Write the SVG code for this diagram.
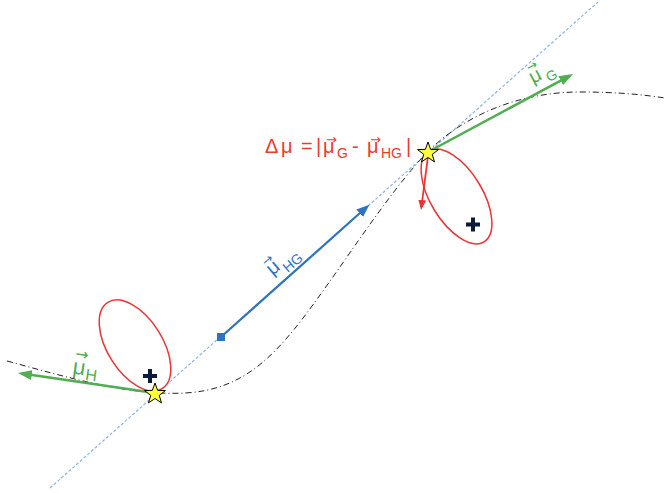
<svg xmlns="http://www.w3.org/2000/svg" width="665" height="493" viewBox="0 0 665 493">
<style>
.red{fill:#ee3a2f}
.grn{fill:#4eae50}
.blu{fill:#2f73c0}
.t{font-family:"Liberation Sans",Arial,sans-serif}
.arr{font-family:"DejaVu Sans",sans-serif}
.ell{fill:none;stroke:#ee3333;stroke-width:1.5}
.star{fill:#ffff3c;stroke:#000;stroke-width:1}
.plus{stroke:#0b1a3a;stroke-width:4;fill:none}
</style>
<defs>
<marker id="hg" viewBox="0 0 14 10" refX="10" refY="5" markerWidth="14" markerHeight="10" markerUnits="userSpaceOnUse" orient="auto"><path d="M0,0 L14,5 L0,10 z" fill="#4eae50"/></marker>
<marker id="hb" viewBox="0 0 13 10" refX="9" refY="5" markerWidth="13" markerHeight="10" markerUnits="userSpaceOnUse" orient="auto"><path d="M0,0 L13,5 L0,10 z" fill="#2f73c0"/></marker>
<marker id="hr" viewBox="0 0 10 8" refX="7" refY="4" markerWidth="10" markerHeight="8" markerUnits="userSpaceOnUse" orient="auto"><path d="M0,0 L10,4 L0,8 z" fill="#ee3333"/></marker>
<polygon id="starshape" points="0,-11 2.645,-3.64 10.46,-3.4 4.28,1.39 6.47,8.9 0,4.5 -6.47,8.9 -4.28,1.39 -10.46,-3.4 -2.645,-3.64"/>
</defs>

<g id="connectors">
<line x1="50" y1="488" x2="598" y2="2" stroke="#8db3e2" stroke-width="1.2" stroke-dasharray="3 2"/>
<path d="M7,361 C70,378 130,396 185,393 C240,390 270,360 300,322 C340,270 380,205 420,160 C460,115 520,92 580,92 C620,92 645,95 665,98" fill="none" stroke="#222" stroke-width="1" stroke-dasharray="6 3 1 3"/>
</g>

<g id="ellipse-h"><ellipse class="ell" cx="0" cy="0" rx="51" ry="27.5" transform="translate(135,345.5) rotate(57.8)"/></g>
<g id="ellipse-g"><ellipse class="ell" cx="0" cy="0" rx="53" ry="26" transform="translate(456.5,196.5) rotate(58.7)"/></g>

<g id="vectors">
<line x1="155" y1="393" x2="21.96" y2="373.58" stroke="#4eae50" stroke-width="2.5" marker-end="url(#hg)"/>
<line x1="428" y1="152" x2="569.5" y2="75.9" stroke="#4eae50" stroke-width="2.5" marker-end="url(#hg)"/>
<line x1="221" y1="337" x2="366.4" y2="207.3" stroke="#2f73c0" stroke-width="2.2" marker-end="url(#hb)"/>
<rect x="217" y="333" width="8" height="8" fill="#2f73c0"/>
<line x1="428" y1="156" x2="421.4" y2="207" stroke="#ee3333" stroke-width="1.8" marker-end="url(#hr)"/>
</g>

<g id="star-h"><use href="#starshape" class="star" transform="translate(155,394)"/></g>
<g id="star-g"><use href="#starshape" class="star" transform="translate(428,153)"/></g>

<g id="plus-h"><path class="plus" d="M143,376 H157 M150,369 V383"/></g>
<g id="plus-g"><path class="plus" d="M466,224.5 H480 M473,217.5 V231.5"/></g>

<g id="label-mu-h" transform="translate(72,373.5) rotate(8)">
<text class="t grn" font-size="22"><tspan x="0" y="0">μ</tspan><tspan x="13.5" y="4.5" font-size="16">H</tspan><tspan class="arr" x="0.5" y="-15" font-size="16">→</tspan></text>
</g>

<g id="label-mu-g" transform="translate(533,84) rotate(-28)">
<text class="t grn" font-size="20"><tspan x="0" y="0">μ</tspan><tspan x="15" y="6" font-size="14">G</tspan><tspan class="arr" x="2" y="-12.2" font-size="13">→</tspan></text>
</g>

<g id="label-mu-hg" transform="translate(272.4,275.9) rotate(-40)">
<text class="t blu" font-size="20"><tspan x="0" y="0">μ</tspan><tspan x="13.5" y="7.7" font-size="14">HG</tspan><tspan class="arr" x="1" y="-11" font-size="13">→</tspan></text>
</g>

<g id="label-delta">
<text class="t red" font-size="20" y="153"><tspan x="265">Δ</tspan><tspan x="281">μ</tspan><tspan x="301">=</tspan><tspan x="316">|</tspan><tspan x="323">μ</tspan><tspan x="337" y="158" font-size="14">G</tspan><tspan x="352" y="153">-</tspan><tspan x="367">μ</tspan><tspan x="381" y="158" font-size="14">HG</tspan><tspan x="406" y="153">|</tspan><tspan class="arr" x="326" y="144" font-size="13">→</tspan><tspan class="arr" x="370" y="144" font-size="13">→</tspan></text>
</g>
</svg>
